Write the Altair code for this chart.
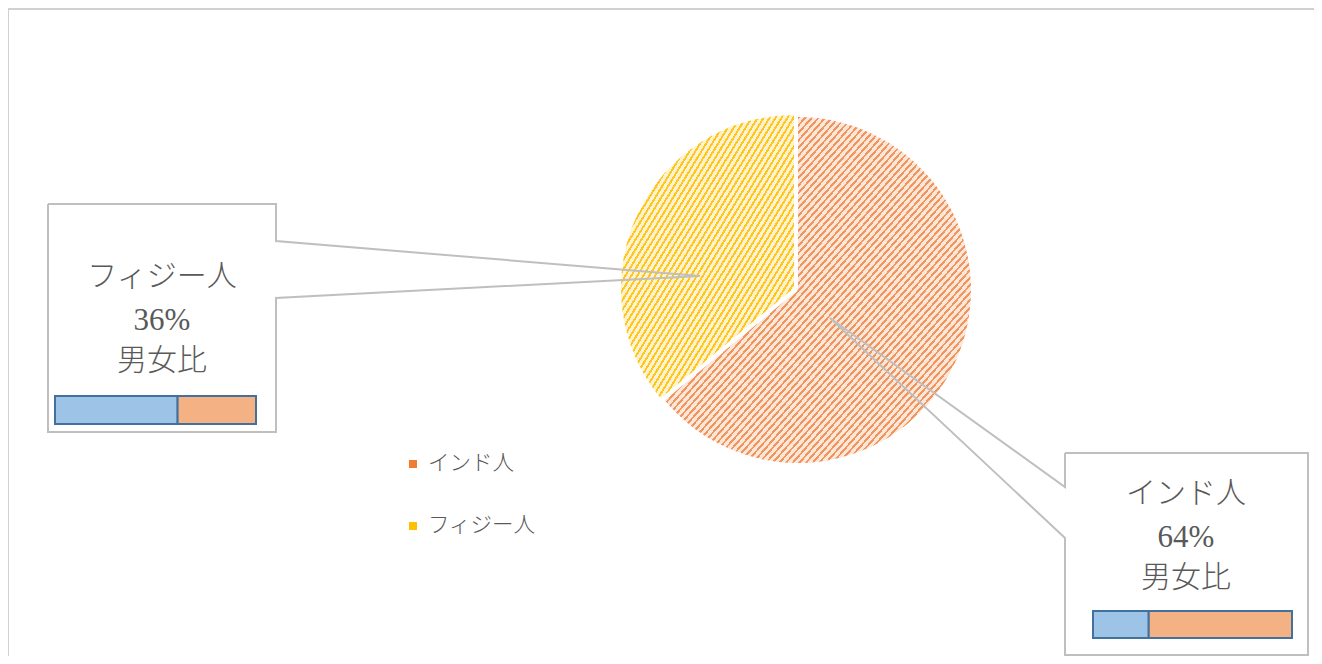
import altair as alt
import pandas as pd

# ---------------- data ----------------
categories = ["インド人", "フィジー人"]
shares = [64, 36]
ratio_label = "男女比"
sex_labels = ["男", "女"]
sex_ratio_india = [28, 72]
sex_ratio_fiji = [61, 39]

# ---------------- layout / style ----------------
W, H = 1306, 648
TEXT = "#595959"
GRID = "#BFBFBF"
SERIF = "Liberation Serif, DejaVu Serif, serif"
SANS = "Noto Sans CJK JP"
R = 173
pie_center = {"インド人": (790, 282), "フィジー人": (786, 280)}
stripe = {"インド人": ("#F0955E", "#FCE6D8", 92), "フィジー人": ("#FFC61F", "#FFF3CF", 58)}
legend_color = {"インド人": "#ED7D31", "フィジー人": "#FFC000"}
callout_path = {
    "フィジー人": [(40, 196), (268, 196), (268, 233), (692, 268), (268, 290), (268, 424), (40, 424), (40, 196)],
    "インド人": [(1057, 445), (1300, 445), (1300, 647), (1057, 647), (1057, 530), (822, 310), (1057, 479), (1057, 445)],
}
callout_text = {"フィジー人": (154, [269, 313, 353]), "インド人": (1178, [486, 530, 570])}
ratio_bar = {"フィジー人": (47, 248, 388, 416), "インド人": (1085, 1284, 603, 630)}
legend_pos = (405, 420, [456, 518])

xs = alt.Scale(domain=[0, W], range=[0, W], nice=False, zero=False)
ys = alt.Scale(domain=[0, H], range=[0, H], nice=False, zero=False)
noax = None


def X(f, **kw):
    return alt.X(f, type="quantitative", scale=xs, axis=noax, **kw)


def Y(f, **kw):
    return alt.Y(f, type="quantitative", scale=ys, axis=noax, **kw)


def stripes(dark, light, n, duty=0.38):
    stops = []
    for i in range(n):
        a, b, c = i / n, (i + duty) / n, (i + 1) / n
        stops += [alt.GradientStop(offset=a, color=dark), alt.GradientStop(offset=b, color=dark),
                  alt.GradientStop(offset=b, color=light), alt.GradientStop(offset=min(c, 1.0), color=light)]
    return alt.LinearGradient(gradient="linear", stops=stops, x1=0, y1=0, x2=1, y2=1)


# border (top + left only, right/bottom cropped in reference)
border = alt.Chart(pd.DataFrame({"x": [0, 0], "y": [1, 1], "x2": [W, 0], "y2": [1, H]})).mark_rule(
    color="#D0D0D0", strokeWidth=2).encode(x=X("x"), y=Y("y"), x2="x2", y2="y2")

# pie
total = sum(shares)
starts, acc = [], 0
for s in shares:
    starts.append(acc / total)
    acc += s
pie_df = pd.DataFrame({"cat": categories, "share": shares, "start": starts,
                       "end": [st + s / total for st, s in zip(starts, shares)]})
theta_scale = alt.Scale(domain=[0, 1], range=[0, 6.283185307179586])
pie_layers = []
for cat in categories:
    cx, cy = pie_center[cat]
    dark, light, n = stripe[cat]
    pie_layers.append(
        alt.Chart(pie_df).transform_filter(alt.datum.cat == cat).mark_arc(
            outerRadius=R, fill=stripes(dark, light, n)
        ).encode(theta=alt.Theta("start:Q", scale=theta_scale), theta2="end:Q",
                 x=alt.value(cx), y=alt.value(cy))
    )

# callout outlines
rows = []
for cat, pts in callout_path.items():
    for i, (px, py) in enumerate(pts):
        rows.append({"cat": cat, "i": i, "px": px, "py": py})
callouts = alt.Chart(pd.DataFrame(rows)).mark_line(color=GRID, strokeWidth=2, strokeJoin="miter").encode(
    x=X("px"), y=Y("py"), detail="cat:N", order="i:Q")

# callout texts
jrows, prow = [], []
for cat, s in zip(categories, shares):
    cx, ylist = callout_text[cat]
    jrows.append({"t": cat, "px": cx, "py": ylist[0]})
    prow.append({"t": f"{s}%", "px": cx, "py": ylist[1]})
    jrows.append({"t": ratio_label, "px": cx, "py": ylist[2]})
ctext_jp = alt.Chart(pd.DataFrame(jrows)).mark_text(
    font=SANS, fontWeight=300, fontSize=30, color=TEXT, align="center", baseline="middle").encode(
    x=X("px"), y=Y("py"), text="t:N")
ctext_pct = alt.Chart(pd.DataFrame(prow)).mark_text(
    font=SERIF, fontSize=31, color=TEXT, align="center", baseline="middle").encode(
    x=X("px"), y=Y("py"), text="t:N")

# gender ratio bars
brows = []
for cat, ratio in [("フィジー人", sex_ratio_fiji), ("インド人", sex_ratio_india)]:
    x0, x1, y0, y1 = ratio_bar[cat]
    acc = 0
    for lab, v in zip(sex_labels, ratio):
        brows.append({"cat": cat, "sex": lab, "a": x0 + (x1 - x0) * acc / 100,
                      "b": x0 + (x1 - x0) * (acc + v) / 100, "y0": y0, "y1": y1})
        acc += v
bars = alt.Chart(pd.DataFrame(brows)).mark_rect(stroke="#41719C", strokeWidth=2).encode(
    x=X("a"), x2="b", y=Y("y0"), y2="y1",
    fill=alt.Fill("sex:N", scale=alt.Scale(domain=sex_labels, range=["#9DC3E6", "#F4B183"]), legend=None))

# legend
lx, ltx, lys = legend_pos
ldf = pd.DataFrame({"cat": categories, "mx": [lx] * 2, "tx": [ltx] * 2, "py": lys})
leg_mark = alt.Chart(ldf).mark_square(size=64, opacity=1).encode(
    x=X("mx"), y=Y("py"),
    color=alt.Color("cat:N", scale=alt.Scale(domain=categories, range=[legend_color[c] for c in categories]),
                    legend=None))
leg_text = alt.Chart(ldf).mark_text(font=SANS, fontWeight=300, fontSize=21.5, color=TEXT, align="left",
                                    baseline="middle").encode(x=X("tx"), y=Y("py"), text="cat:N")

chart = alt.layer(border, *pie_layers, callouts, ctext_jp, ctext_pct, bars, leg_mark, leg_text).properties(
    width=W, height=H, padding=0, autosize=alt.AutoSizeParams(type="none")
).configure_view(stroke=None).configure(background="white")

chart.save("out.html", embed_options={"renderer": "svg", "actions": False})
